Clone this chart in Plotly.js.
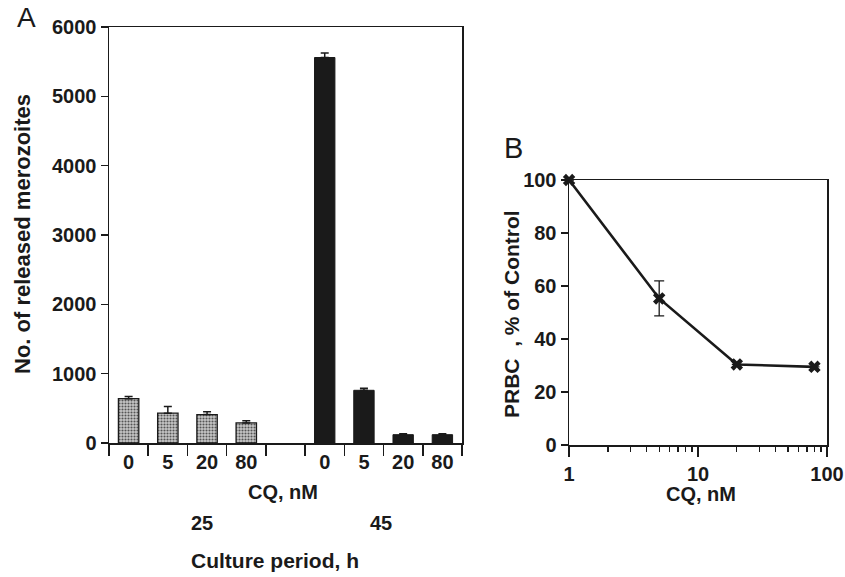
<!DOCTYPE html>
<html>
<head>
<meta charset="utf-8">
<script src="https://cdn.plot.ly/plotly-3.0.1.min.js"></script>
<style>
  html, body { margin: 0; padding: 0; background: #ffffff; }
  #chart { width: 845px; height: 577px; }
</style>
</head>
<body>
<div id="chart"></div>
<script>
// Panel A: merozoites released after 25 h and 45 h of culture with chloroquine (CQ)
const cqLabels = ['0', '5', '20', '80'];
const released25h = [640, 430, 410, 290];
const err25h = [30, 95, 40, 30];
const released45h = [5560, 760, 120, 120];
const err45h = [65, 30, 15, 12];
const periodLabels = ['25', '45'];
const countTicks = [0, 1000, 2000, 3000, 4000, 5000, 6000];

// Panel B: parasitized red blood cells vs CQ concentration
const cqB = [1, 5, 20, 80];
const prbcPct = [100, 55.3, 30.4, 29.5];
const prbcErr = [0, 6.6, 0, 0];
const pctTicks = [0, 20, 40, 60, 80, 100];
const cqTicks = [1, 10, 100];
const cqMinor = [2, 3, 4, 5, 6, 7, 8, 9, 20, 30, 40, 50, 60, 70, 80, 90];

const W = 845, H = 577;
const px = v => v / W;           // horizontal pixel -> paper
const py = v => (H - v) / H;     // vertical pixel -> paper

const ink = '#1a1a1a';
const fam = '"Liberation Sans", Arial, Helvetica, sans-serif';
const tickFont = { family: fam, size: 20, color: ink, weight: 700 };
const bold = s => '<b>' + s + '</b>';

// category keys: four concentrations per period plus an empty slot between groups
const cats25 = cqLabels.map(c => '25h ' + c);
const cats45 = cqLabels.map(c => '45h ' + c);
const gapCat = 'gap';
const allCats = [...cats25, gapCat, ...cats45];
const allText = [...cqLabels, '', ...cqLabels].map(bold);

const traces = [
  {
    type: 'bar',
    x: [...cats25, gapCat],
    y: [...released25h, null],
    width: 0.52,
    marker: {
      color: '#b8b8b8',
      line: { color: ink, width: 1.3 },
      pattern: { shape: '.', size: 3, solidity: 0.4, fgcolor: '#555555', bgcolor: '#c8c8c8' }
    },
    error_y: { type: 'data', symmetric: false, array: err25h, arrayminus: err25h.map(() => 0),
               color: ink, thickness: 1.5, width: 4 },
    xaxis: 'x', yaxis: 'y', hoverinfo: 'skip'
  },
  {
    type: 'bar',
    x: cats45,
    y: released45h,
    width: 0.52,
    marker: { color: ink, line: { color: ink, width: 1 } },
    error_y: { type: 'data', symmetric: false, array: err45h, arrayminus: err45h.map(() => 0),
               color: ink, thickness: 1.5, width: 4 },
    xaxis: 'x', yaxis: 'y', hoverinfo: 'skip'
  },
  {
    type: 'scatter',
    mode: 'lines+markers',
    x: cqB,
    y: prbcPct,
    line: { color: ink, width: 2.6 },
    marker: { symbol: 'x', size: 11, color: ink },
    error_y: { type: 'data', array: prbcErr, color: ink, thickness: 1.3, width: 5 },
    cliponaxis: false,
    xaxis: 'x2', yaxis: 'y2', hoverinfo: 'skip'
  }
];

const axisLine = { showline: true, linecolor: ink, linewidth: 1.5, mirror: true,
                   showgrid: false, zeroline: false, tickcolor: ink, tickwidth: 1.5,
                   ticklabeloverflow: 'allow' };

const layout = {
  width: W, height: H,
  margin: { l: 0, r: 0, t: 0, b: 0 },
  paper_bgcolor: '#ffffff', plot_bgcolor: '#ffffff',
  showlegend: false,
  barmode: 'overlay',
  font: { family: fam, color: ink },
  xaxis: Object.assign({}, axisLine, {
    domain: [px(109), px(462)],
    anchor: 'y',
    type: 'category',
    categoryorder: 'array', categoryarray: allCats,
    range: [-0.5, allCats.length - 0.5],
    tickmode: 'array', tickvals: allCats, ticktext: allText,
    tickson: 'boundaries',
    ticks: 'outside', ticklen: 11,
    tickfont: tickFont
  }),
  yaxis: Object.assign({}, axisLine, {
    domain: [py(443), py(27)],
    anchor: 'x',
    range: [0, 6000],
    tickmode: 'array', tickvals: countTicks, ticktext: countTicks.map(String).map(bold),
    ticks: 'outside', ticklen: 7,
    tickfont: tickFont
  }),
  xaxis2: Object.assign({}, axisLine, {
    domain: [px(569), px(827)],
    anchor: 'y2',
    type: 'log',
    range: [-0.0005, 2.0005],
    tickmode: 'array', tickvals: cqTicks, ticktext: cqTicks.map(String).map(bold),
    ticks: 'outside', ticklen: 10,
    minor: { tickvals: cqMinor, ticks: 'outside', ticklen: 5, tickcolor: ink, tickwidth: 1.3, showgrid: false },
    tickfont: tickFont
  }),
  yaxis2: Object.assign({}, axisLine, {
    domain: [py(445), py(180)],
    anchor: 'x2',
    range: [0, 100],
    tickmode: 'array', tickvals: pctTicks, ticktext: pctTicks.map(String).map(bold),
    ticks: 'outside', ticklen: 7,
    tickfont: tickFont
  }),
  annotations: [
    { text: 'A', x: px(26), y: py(18), xref: 'paper', yref: 'paper', showarrow: false,
      xanchor: 'center', yanchor: 'middle', font: { family: fam, size: 28, color: ink } },
    { text: 'B', x: px(513), y: py(148), xref: 'paper', yref: 'paper', showarrow: false,
      xanchor: 'center', yanchor: 'middle', font: { family: fam, size: 29, color: ink } },
    { text: bold('No. of released merozoites'), textangle: -90, x: px(22), y: py(234),
      xref: 'paper', yref: 'paper', showarrow: false, xanchor: 'center', yanchor: 'middle',
      font: { family: fam, size: 22, color: ink } },
    { text: bold('CQ, nM'), x: px(283), y: py(492), xref: 'paper', yref: 'paper', showarrow: false,
      xanchor: 'center', yanchor: 'middle', font: { family: fam, size: 20, color: ink } },
    { text: bold(periodLabels[0]), x: px(202), y: py(523), xref: 'paper', yref: 'paper', showarrow: false,
      xanchor: 'center', yanchor: 'middle', font: { family: fam, size: 20, color: ink } },
    { text: bold(periodLabels[1]), x: px(381), y: py(523), xref: 'paper', yref: 'paper', showarrow: false,
      xanchor: 'center', yanchor: 'middle', font: { family: fam, size: 20, color: ink } },
    { text: bold('Culture period, h'), x: px(275), y: py(560), xref: 'paper', yref: 'paper', showarrow: false,
      xanchor: 'center', yanchor: 'middle', font: { family: fam, size: 21, color: ink } },
    { text: bold('PRBC\u00A0\u00A0, % of Control'), textangle: -90, x: px(511), y: py(314),
      xref: 'paper', yref: 'paper', showarrow: false, xanchor: 'center', yanchor: 'middle',
      font: { family: fam, size: 21, color: ink } },
    { text: bold('CQ, nM'), x: px(701), y: py(494), xref: 'paper', yref: 'paper', showarrow: false,
      xanchor: 'center', yanchor: 'middle', font: { family: fam, size: 20, color: ink } }
  ]
};

Plotly.newPlot('chart', traces, layout, { staticPlot: true, displayModeBar: false });
</script>
</body>
</html>
